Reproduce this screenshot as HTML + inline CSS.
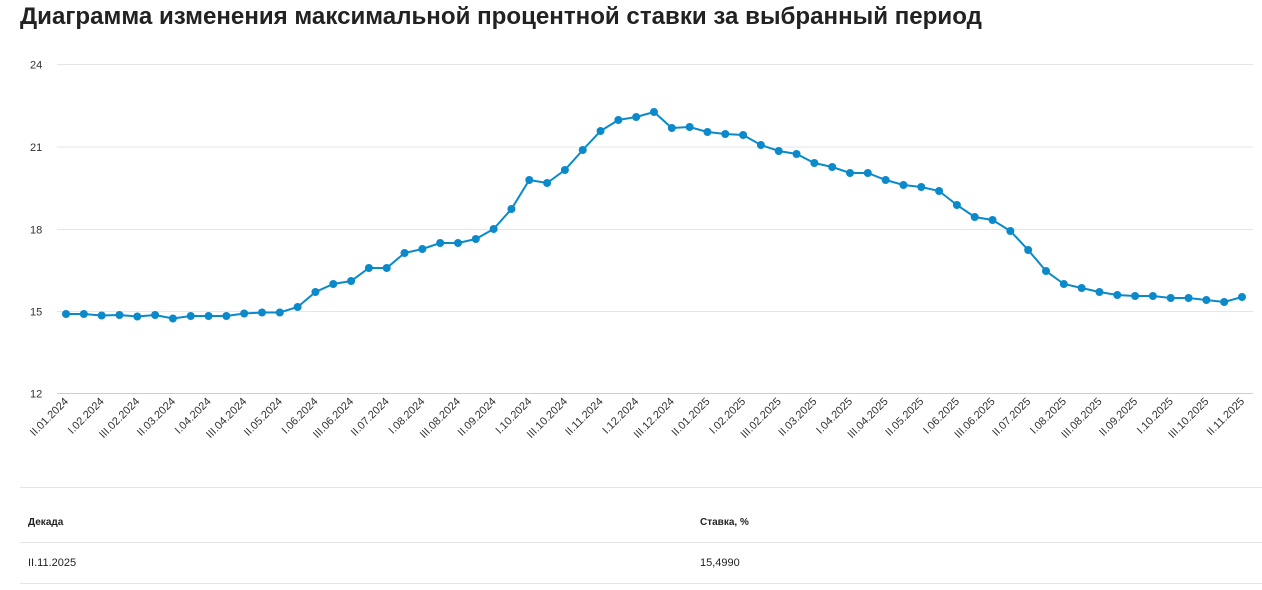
<!DOCTYPE html>
<html><head><meta charset="utf-8"><style>
body{margin:0;background:#fff;font-family:"Liberation Sans",sans-serif;width:1262px;height:590px;overflow:hidden;position:relative}
h1{position:absolute;left:20px;top:3px;margin:0;font-size:24.1px;font-weight:bold;color:#222;letter-spacing:0}
.t{position:absolute;font-size:11px;color:#222}
.ln{position:absolute;left:20px;right:0;height:1px;background:#e6e6e6}
</style></head><body>
<h1>Диаграмма изменения максимальной процентной ставки за выбранный период</h1>
<svg id="c" width="1262" height="480" style="position:absolute;left:0;top:0" font-family="Liberation Sans, sans-serif"></svg>
<div class="ln" style="top:487px"></div>
<div class="t" style="left:28px;top:517px;font-weight:bold;font-size:10px">Декада</div>
<div class="t" style="left:700px;top:517px;font-weight:bold;font-size:10px">Ставка, %</div>
<div class="ln" style="top:542px"></div>
<div class="t" style="left:28px;top:557px">II.11.2025</div>
<div class="t" style="left:700px;top:557px">15,4990</div>
<div class="ln" style="top:583px"></div>
<script>
var ys=[314,314,315.5,315,316.5,315,318.5,316,316,316,313.5,312.5,312.5,307,292,284,281,268,268,253,249,243,243,239,229,209,180,183,170,150,131,120,117,112,128,127,132,134,135,145,151,154,163,167,173,173,180,185,187,191,205,217,220,231,250,271,284,288,292,295,296,296,298,298,300,302,297];
var s='';
[[24,64.5],[21,147],[18,229.5],[15,311.5],[12,393.5]].forEach(function(g){
s+='<line x1="57" x2="1253" y1="'+g[1]+'" y2="'+g[1]+'" stroke="'+(g[0]==12?'#ccd':'#e6e6e6')+'"/>';
s+='<text x="30" y="'+(g[1]+4)+'" font-size="11" fill="#333">'+g[0]+'</text>';});
var X=function(i){return 66+i*17.818};
var p=ys.map(function(y,i){return X(i)+','+y}).join(' ');
s+='<polyline points="'+p+'" fill="none" stroke="#0a8acb" stroke-width="2"/>';
ys.forEach(function(y,i){s+='<circle cx="'+X(i)+'" cy="'+y+'" r="4" fill="#0a8acb"/>';});
var dec=['I','II','III'],idx=1,m=1,yr=2024;
for(var i=0;i<67;i++){
 if(i%2==0){var lab=dec[idx]+'.'+(m<10?'0':'')+m+'.'+yr;
 s+='<text transform="translate('+(X(i)+3)+',402) rotate(-45)" text-anchor="end" font-size="11" fill="#333">'+lab+'</text>';}
 idx++; if(idx>2){idx=0;m++;if(m>12){m=1;yr++;}}
}
document.getElementById('c').innerHTML=s;
</script>
</body></html>
